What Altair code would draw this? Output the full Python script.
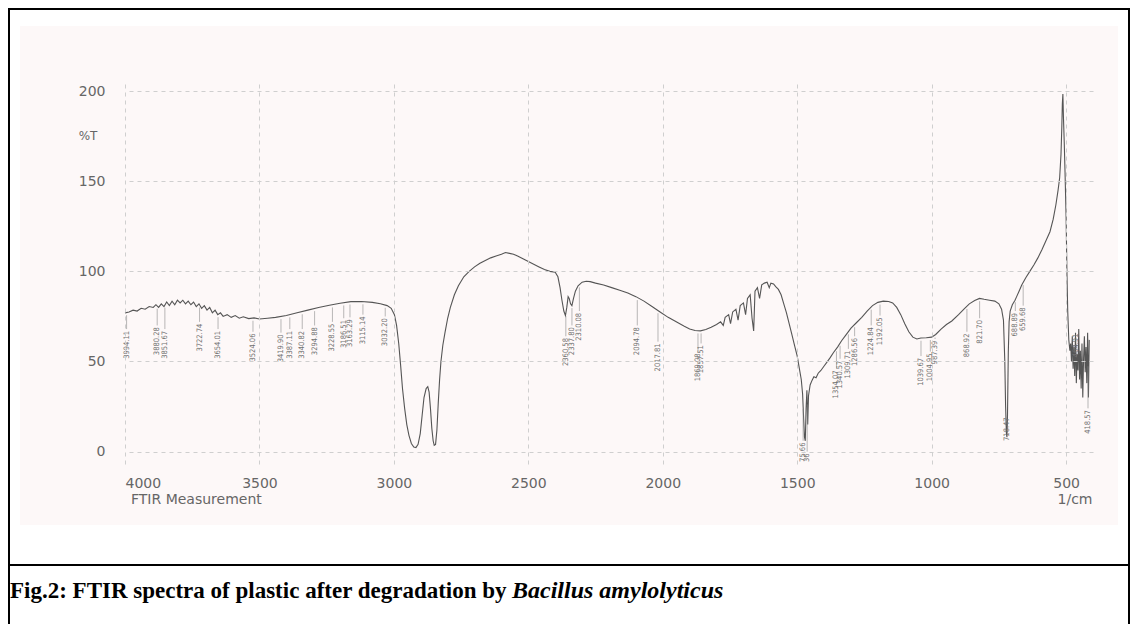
import altair as alt
import pandas as pd
import numpy as np

# ---------------- data ----------------
wavenumber = [
    4000, 3985, 3970, 3955, 3940, 3925, 3910, 3895, 3885, 3875, 3865, 3855, 3845, 3835, 3825, 3815,
    3805, 3795, 3785, 3775, 3765, 3755, 3745, 3735, 3725, 3715, 3705, 3695, 3685, 3675, 3665, 3655,
    3645, 3635, 3620, 3605, 3590, 3575, 3560, 3540, 3520, 3500, 3470, 3440, 3400, 3360, 3320, 3280,
    3240, 3200, 3160, 3120, 3080, 3050, 3025, 3010, 2998, 2990, 2982, 2975, 2968, 2960, 2952, 2944,
    2935, 2926, 2918, 2910, 2902, 2895, 2888, 2880, 2874, 2869, 2864, 2859, 2854, 2850, 2845, 2840,
    2835, 2830, 2825, 2818, 2810, 2800, 2790, 2775, 2760, 2740, 2720, 2700, 2680, 2660, 2640, 2620,
    2600, 2585, 2570, 2555, 2540, 2520, 2500, 2480, 2460, 2440, 2420, 2400, 2390, 2382, 2375, 2368,
    2362, 2357, 2352, 2348, 2343, 2338, 2332, 2325, 2315, 2300, 2285, 2270, 2250, 2220, 2190, 2160,
    2130, 2100, 2070, 2040, 2010, 1980, 1950, 1920, 1900, 1880, 1860, 1840, 1820, 1800, 1785, 1775,
    1768, 1755, 1748, 1740, 1728, 1720, 1712, 1700, 1692, 1685, 1675, 1668, 1662, 1657, 1648, 1640,
    1632, 1622, 1612, 1604, 1598, 1588, 1580, 1570, 1560, 1550, 1540, 1530, 1520, 1510, 1500, 1492,
    1485, 1480, 1476, 1473, 1470, 1467, 1464, 1461, 1458, 1452, 1445, 1438, 1430, 1422, 1412, 1400,
    1390, 1378, 1365, 1350, 1335, 1320, 1300, 1280, 1260, 1240, 1220, 1200, 1180, 1160, 1145, 1130,
    1115, 1100, 1085, 1070, 1055, 1040, 1020, 1000, 985, 965, 945, 925, 900, 880, 860, 840,
    822, 805, 785, 765, 750, 740, 733, 728, 725, 722, 720, 718, 715, 712, 708, 700,
    690, 684, 675, 665, 650, 635, 620, 605, 590, 575, 560, 548, 538, 530, 524, 519,
    516, 514, 512, 510, 507, 504, 500, 497, 494, 490, 486, 483, 480, 477, 474, 471,
    468, 465, 462, 459, 456, 453, 450, 447, 444, 441, 438, 435, 432, 429, 426, 423,
    420, 417, 414,
]
transmittance = [
    77, 77.5, 78.5, 78, 79.5, 79, 80.5, 80, 81.5, 80, 82, 80.5, 83, 81, 83.5, 81.5,
    84, 82.5, 84, 82, 83.5, 81.5, 83, 80.5, 82, 79.5, 81, 78.5, 80, 77, 78.5, 76,
    77, 75, 76, 74.5, 75.5, 74, 74.8, 73.8, 74.2, 73.6, 74, 74.5, 75.5, 77, 78.5, 80,
    81.2, 82.3, 83.2, 83.3, 82.8, 82, 81, 79.5, 76, 70, 60, 48, 35, 24, 15, 9,
    4.5, 2.5, 2.2, 4, 10, 20, 30, 35, 36, 33, 24, 13, 6, 3.5, 4, 12,
    27, 40, 50, 59, 66, 74, 80, 87, 92, 97, 100, 102.5, 104.5, 106, 107.5, 108.5,
    109.5, 110.5, 110, 109.5, 108.5, 107, 105.5, 104, 102.5, 101, 100, 99.5, 97, 91, 84, 78,
    75.5, 80, 86, 85, 82, 81, 85, 89, 92, 94, 94.5, 94.3, 93.5, 92.5, 91, 89.5,
    88, 86, 83.5, 80.5, 77.5, 74.5, 72, 69.5, 68, 67.2, 67, 67.8, 69, 70.5, 72, 70,
    74.5, 76, 71, 77.5, 79, 73, 81, 82.5, 76, 85, 87, 74, 67, 89, 91, 85,
    92.5, 93.5, 94, 91, 93.5, 93, 91.5, 90, 87, 82, 77, 71, 65, 59, 53, 46,
    40, 32, 18, 8, 6, 24, 34, 15, 31, 37, 39.5, 41.5, 41, 43.5, 45, 47.5,
    49.5, 52, 55, 58, 61.5, 64.5, 68.5, 71.5, 74.5, 78, 81, 82.8, 83.5, 83.3, 82.5, 80,
    76, 71, 66.5, 63.5, 62.5, 63, 63.2, 63.5, 65, 68, 70.5, 72.5, 76, 79, 82, 83.8,
    85, 84.5, 84, 83.5, 82, 79, 73, 50, 25, 10, 8, 20, 55, 72, 78, 81.5,
    84, 86, 89, 92.5, 96.5, 100, 103.5, 107.5, 112, 117, 122, 129, 137, 145, 152, 165,
    180, 193, 198.5, 186, 172, 155, 130, 100, 78, 62, 56, 60, 50, 64, 46, 58,
    42, 66, 38, 54, 45, 68, 40, 56, 35, 60, 30, 52, 64, 44, 58, 38,
    66, 30, 62,
]

peak_text = [
    "3994.11", "3880.28", "3851.67", "3722.74", "3654.01", "3524.06", "3419.90", "3387.11",
    "3340.82", "3294.88", "3228.55", "3186.51", "3163.29", "3115.14", "3032.20",
    "2360.58", "2337.80", "2310.08", "2094.78", "2017.81", "1869.08", "1857.51",
    "75.66", "36",
    "1354.07", "1340.57", "1309.71", "1286.56", "1224.84", "1192.05",
    "1039.67", "1004.95", "987.39", "868.92", "821.70", "718.47", "688.89", "659.68",
    "464.91", "418.57",
]
peak_wn = [
    3994.11, 3880.28, 3851.67, 3722.74, 3654.01, 3524.06, 3419.90, 3387.11,
    3340.82, 3294.88, 3228.55, 3186.51, 3163.29, 3115.14, 3032.20,
    2360.58, 2337.80, 2310.08, 2094.78, 2017.81, 1869.08, 1857.51,
    1478.0, 1463.0,
    1354.07, 1340.57, 1309.71, 1286.56, 1224.84, 1192.05,
    1039.67, 1004.95, 987.39, 868.92, 821.70, 718.47, 688.89, 659.68,
    464.91, 418.57,
]
peak_level = [
    67, 69, 67, 71, 67, 65.5, 65, 67,
    67, 69, 71, 73, 73.5, 75, 74,
    63, 69, 77, 69, 60, 54.5, 59,
    5, -1,
    45, 50.5, 56, 63, 69, 74.5,
    52, 54.5, 61.5, 65.5, 73, 19, 77, 80,
    65.5, 23,
]

x_ticks = [4000, 3500, 3000, 2500, 2000, 1500, 1000, 500]
y_ticks = [0, 50, 100, 150, 200]

caption_main = "Fig.2: FTIR spectra of plastic after degradation by "
caption_italic = "Bacillus amylolyticus"

# ---------------- tables ----------------
spec = pd.DataFrame({"wn": wavenumber, "T": transmittance})
wn_arr = np.array(wavenumber, dtype=float)
t_arr = np.array(transmittance, dtype=float)
order = np.argsort(wn_arr)
curve_at = np.interp(np.array(peak_wn), wn_arr[order], t_arr[order])
peaks = pd.DataFrame({"wn": peak_wn, "label": peak_text, "level": peak_level})
peaks["tick_from"] = np.maximum(curve_at - 1.5, np.array(peak_level) + 1.0)
peaks["tick_to"] = np.array(peak_level) + 1.0

one = pd.DataFrame({"k": [0]})

AX_FONT = "DejaVu Sans"
AX_COLOR = "#666666"

x_scale = alt.Scale(domain=[400, 4000], reverse=True, nice=False, zero=False)
y_scale = alt.Scale(domain=[-8, 204], nice=False, zero=False)

x_axis = alt.Axis(values=x_ticks, title=None, grid=True, gridColor="#cfcfcf", gridDash=[4, 4],
                  domain=False, ticks=False, labelFont=AX_FONT, labelFontSize=14, format="d",
                  labelColor=AX_COLOR, labelPadding=10, zindex=1)
y_axis = alt.Axis(values=y_ticks, title=None, grid=True, gridColor="#cfcfcf", gridDash=[4, 4],
                  domain=False, ticks=False, labelFont=AX_FONT, labelFontSize=14, format="d",
                  labelColor=AX_COLOR, labelPadding=20, zindex=1)


def xq(field):
    return alt.X(field, type="quantitative", scale=x_scale, axis=x_axis)


def yq(field):
    return alt.Y(field, type="quantitative", scale=y_scale, axis=y_axis)


# scanned paper background
paper = alt.Chart(one).mark_rect(color="#fdf8f8").encode(
    x=alt.value(-105), x2=alt.value(993), y=alt.value(-58), y2=alt.value(441)
)

line = alt.Chart(spec).mark_line(color="#555555", strokeWidth=1.1, interpolate="linear").encode(
    x=xq("wn"), y=yq("T"),
)

ticks = alt.Chart(peaks).mark_rule(color="#8a8a8a", strokeWidth=0.6).encode(
    x=xq("wn"), y=yq("tick_from"), y2="tick_to:Q",
)

labels = alt.Chart(peaks).mark_text(
    angle=270, align="right", baseline="middle", fontSize=7.5, font="DejaVu Sans Condensed",
    color="#707070"
).encode(
    x=xq("wn"), y=yq("level"), text="label:N",
)

pct_t = alt.Chart(one).mark_text(font=AX_FONT, fontSize=12, color=AX_COLOR, align="center",
                                 baseline="middle").encode(
    x=alt.value(-37), y=alt.value(52), text=alt.value("%T"))
ftir = alt.Chart(one).mark_text(font=AX_FONT, fontSize=14, color=AX_COLOR, align="left",
                                baseline="middle").encode(
    x=alt.value(6), y=alt.value(416), text=alt.value("FTIR Measurement"))
unit = alt.Chart(one).mark_text(font=AX_FONT, fontSize=14, color=AX_COLOR, align="center",
                                baseline="middle").encode(
    x=alt.value(950), y=alt.value(416), text=alt.value("1/cm"))

# document frame
frame_top = alt.Chart(one).mark_rule(color="black", strokeWidth=2).encode(
    x=alt.value(-116), x2=alt.value(1004), y=alt.value(-75))
frame_left = alt.Chart(one).mark_rule(color="black", strokeWidth=2).encode(
    x=alt.value(-116), y=alt.value(-76), y2=alt.value(560))
frame_right = alt.Chart(one).mark_rule(color="black", strokeWidth=2).encode(
    x=alt.value(1004), y=alt.value(-76), y2=alt.value(560))
frame_sep = alt.Chart(one).mark_rule(color="black", strokeWidth=2).encode(
    x=alt.value(-116), x2=alt.value(1004), y=alt.value(481))

cap1 = alt.Chart(one).mark_text(font="Liberation Serif", fontSize=23, fontWeight="bold",
                                color="black", align="left", baseline="alphabetic").encode(
    x=alt.value(-115), y=alt.value(514), text=alt.value(caption_main))
cap2 = alt.Chart(one).mark_text(font="Liberation Serif", fontSize=24, fontWeight="bold",
                                fontStyle="italic", color="black", align="left",
                                baseline="alphabetic").encode(
    x=alt.value(387), y=alt.value(514), text=alt.value(caption_italic))

chart = alt.layer(
    paper, line, ticks, labels, pct_t, ftir, unit,
    frame_top, frame_left, frame_right, frame_sep, cap1, cap2
).properties(
    width=968, height=382,
    padding={"left": 117, "top": 76, "right": 37, "bottom": 158},
    autosize=alt.AutoSizeParams(type="none"),
    background="white",
).configure_view(
    stroke="#cccccc", strokeDash=[4, 4]
)

chart.save("out.html", embed_options={"renderer": "svg", "actions": False})
